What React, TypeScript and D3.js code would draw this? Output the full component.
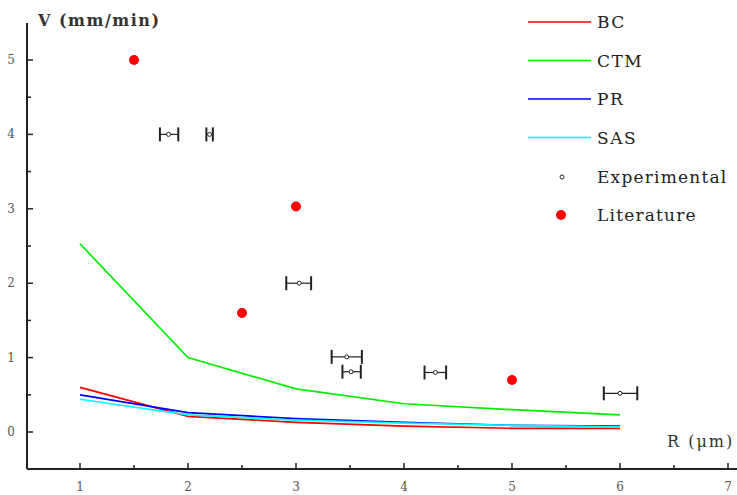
import React from "react";
import * as d3 from "d3";

const radii = [1, 2, 3, 4, 5, 6];
const bcValues = [0.6, 0.21, 0.13, 0.08, 0.05, 0.05];
const ctmValues = [2.53, 1.0, 0.58, 0.38, 0.3, 0.23];
const prValues = [0.5, 0.26, 0.18, 0.13, 0.09, 0.08];
const sasValues = [0.44, 0.23, 0.16, 0.12, 0.09, 0.07];

const expR = [1.82, 2.2, 3.03, 3.47, 3.51, 4.29, 6.0];
const expV = [4.0, 4.0, 2.0, 1.01, 0.81, 0.8, 0.52];
const expErrLow = [0.08, 0.03, 0.12, 0.14, 0.08, 0.1, 0.15];
const expErrHigh = [0.09, 0.03, 0.11, 0.14, 0.09, 0.1, 0.16];

const litR = [1.5, 3.0, 2.5, 5.0];
const litV = [5.0, 3.03, 1.6, 0.7];

const xTicks = [1, 2, 3, 4, 5, 6, 7];
const yTicks = [0, 1, 2, 3, 4, 5];

const seriesNames = ["BC", "CTM", "PR", "SAS"];
const seriesColors = ["#ff0000", "#00ee00", "#0000ff", "#00ffff"];

export default function App() {
  const W = 737, H = 495;
  const axX = 27, axBottom = 469, axTop = 23, axRight = 737;
  const x = d3.scaleLinear().domain([0.5, 7]).range([26, 728]);
  const y = d3.scaleLinear().domain([0, 5]).range([432, 60]);
  const line = d3.line<number>().x((_, i) => x(radii[i]));
  const series = [bcValues, ctmValues, prValues, sasValues];
  const xMinor = d3.range(1.5, 7.01, 1);
  const yMinor = d3.range(0.5, 5.01, 1);
  const font = "'DejaVu Serif'";
  return (
    <svg width={W} height={H} style={{ position: "absolute", left: 0, top: 0, background: "#fff", fontFamily: font }}>
      {series.map((vals, si) => (
        <path key={si}
          d={line.y((v) => y(v))(vals) || ""}
          fill="none" stroke={seriesColors[si]} strokeWidth={1.7} />
      ))}
      <line x1={axX} x2={axX} y1={axTop} y2={axBottom} stroke="#222" strokeWidth={2} />
      <line x1={axX} x2={axRight} y1={axBottom} y2={axBottom} stroke="#222" strokeWidth={2} />
      {yTicks.map((t) => (
        <g key={"y" + t}>
          <line x1={axX} x2={axX + 6} y1={y(t)} y2={y(t)} stroke="#222" strokeWidth={1.5} />
          <text x={15} y={y(t) + 4} fontSize={12} fill="#555" textAnchor="end">{t}</text>
        </g>
      ))}
      {yMinor.map((t) => (
        <line key={"ym" + t} x1={axX} x2={axX + 4} y1={y(t)} y2={y(t)} stroke="#222" strokeWidth={1.5} />
      ))}
      {xTicks.map((t) => (
        <g key={"x" + t}>
          <line x1={x(t)} x2={x(t)} y1={axBottom} y2={axBottom - 6} stroke="#222" strokeWidth={1.5} />
          <text x={x(t)} y={491} fontSize={12} fill="#555" textAnchor="middle">{t}</text>
        </g>
      ))}
      {xMinor.map((t) => (
        <line key={"xm" + t} x1={x(t)} x2={x(t)} y1={axBottom} y2={axBottom - 4} stroke="#222" strokeWidth={1.5} />
      ))}
      <text x={38} y={26} fontSize={16} fontWeight="bold" fill="#333" letterSpacing={1.5}>V (mm/min)</text>
      <text x={667} y={447} fontSize={16} fill="#333" letterSpacing={2}>R (μm)</text>
      {expR.map((r, i) => {
        const cx = x(r), cy = y(expV[i]);
        const x0 = x(r - expErrLow[i]), x1 = x(r + expErrHigh[i]);
        return (
          <g key={"e" + i} stroke="#222">
            <line x1={x0} x2={x1} y1={cy} y2={cy} strokeWidth={1.2} />
            <line x1={x0} x2={x0} y1={cy - 7} y2={cy + 7} strokeWidth={2} />
            <line x1={x1} x2={x1} y1={cy - 7} y2={cy + 7} strokeWidth={2} />
            <circle cx={cx} cy={cy} r={2} fill="#fff" strokeWidth={1} />
          </g>
        );
      })}
      {litR.map((r, i) => (
        <circle key={"l" + i} cx={x(r)} cy={y(litV[i])} r={5} fill="#ff0000" />
      ))}
      {seriesNames.map((n, i) => {
        const ly = 22 + i * 38.5;
        return (
          <g key={"lg" + i}>
            <line x1={528} x2={591} y1={ly} y2={ly} stroke={seriesColors[i]} strokeWidth={1.5} />
            <text x={597} y={ly + 6} fontSize={17} fill="#222" letterSpacing={1.5}>{n}</text>
          </g>
        );
      })}
      <circle cx={562} cy={177} r={2} fill="#fff" stroke="#222" strokeWidth={1} />
      <text x={597} y={183} fontSize={17} fill="#222" letterSpacing={1.2}>Experimental</text>
      <circle cx={561} cy={215} r={5} fill="#ff0000" />
      <text x={597} y={221} fontSize={17} fill="#222" letterSpacing={1.2}>Literature</text>
    </svg>
  );
}
